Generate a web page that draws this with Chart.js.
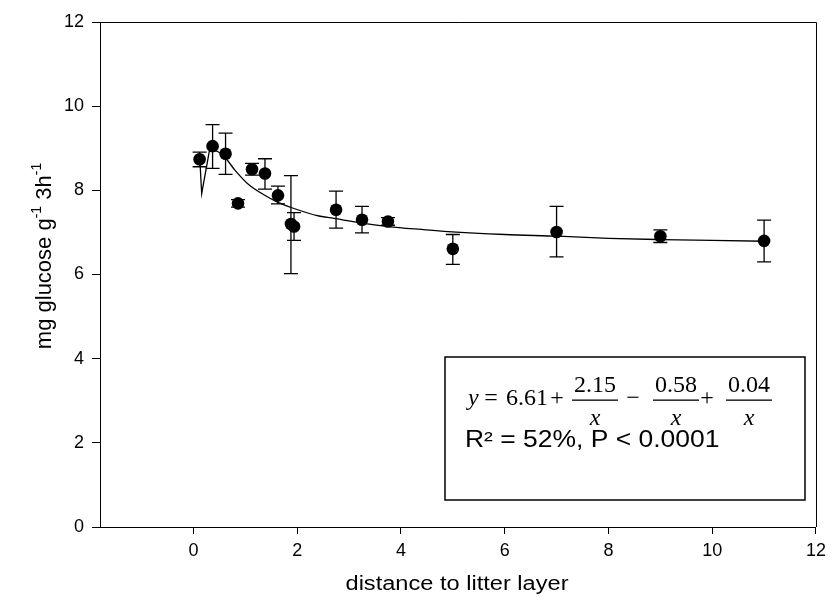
<!DOCTYPE html>
<html>
<head>
<meta charset="utf-8">
<script src="https://cdn.jsdelivr.net/npm/chart.js@4"></script>
<style>
  body { margin: 0; background: #fff; }
  #grafico { display: block; }
</style>
</head>
<body>
<canvas id="grafico" width="832" height="608"></canvas>
<script>
// medias por distancia (cm) e limites das barras de erro
const distancia = [0.12, 0.37, 0.62, 0.86, 1.13, 1.38, 1.63, 1.88, 1.94, 2.75, 3.25, 3.75, 5, 7, 9, 11]
const glucose = [8.74, 9.05, 8.87, 7.69, 8.50, 8.40, 7.88, 7.20, 7.14, 7.54, 7.30, 7.26, 6.61, 7.01, 6.91, 6.80]
const erroSup = [8.91, 9.56, 9.36, 7.78, 8.64, 8.75, 8.10, 8.35, 7.47, 7.98, 7.62, 7.35, 6.95, 7.62, 7.06, 7.29]
const erroInf = [8.56, 8.52, 8.38, 7.60, 8.36, 8.03, 7.68, 6.02, 6.81, 7.10, 6.99, 7.17, 6.24, 6.42, 6.76, 6.30]

// curva ajustada (trecho em V perto de zero + resto)
const curvaVX = [0.13, 0.16, 0.31]
const curvaVY = [8.60, 7.92, 8.95]
const curvaX = [0.31, 0.45, 0.63, 0.8, 1.07, 1.35, 1.62, 1.91, 2.42, 2.74, 3.25, 3.76, 4.4, 4.91, 6, 7.02, 8, 9.01, 10, 11.02]
const curvaY = [8.95, 8.93, 8.75, 8.48, 8.13, 7.90, 7.72, 7.58, 7.39, 7.33, 7.22, 7.14, 7.07, 7.02, 6.95, 6.91, 6.86, 6.83, 6.81, 6.79]

const ticksX = [0, 2, 4, 6, 8, 10, 12]
const ticksY = [0, 2, 4, 6, 8, 10, 12]

const tituloX = 'distance to litter layer'
const equacao = ['6.61', '2.15', '0.58', '0.04']
const textoR2 = 'R² = 52%, P < 0.0001'

const pontos = distancia.map((x, i) => ({ x: x, y: glucose[i] }))
const linhaV = curvaVX.map((x, i) => ({ x: x, y: curvaVY[i] }))
const linha = curvaX.map((x, i) => ({ x: x, y: curvaY[i] }))

const barrasErro = {
    id: 'barrasErro',
    beforeDatasetsDraw(chart) {
        const ctx = chart.ctx
        const sx = chart.scales.x
        const sy = chart.scales.y
        ctx.save()
        ctx.strokeStyle = '#000'
        ctx.lineWidth = 1.3
        distancia.forEach((d, i) => {
            const px = sx.getPixelForValue(d)
            const top = sy.getPixelForValue(erroSup[i])
            const bot = sy.getPixelForValue(erroInf[i])
            ctx.beginPath()
            ctx.moveTo(px, top)
            ctx.lineTo(px, bot)
            ctx.moveTo(px - 7, top)
            ctx.lineTo(px + 7, top)
            ctx.moveTo(px - 7, bot)
            ctx.lineTo(px + 7, bot)
            ctx.stroke()
        })
        ctx.restore()
    }
}

const serif = '24px "Liberation Serif"'
const serifIt = 'italic 24px "Liberation Serif"'

function fracao(ctx, num, cx) {
    ctx.font = serif
    ctx.textAlign = 'center'
    ctx.fillText(num, cx, 392)
    const w = ctx.measureText(num).width
    ctx.fillRect(cx - w / 2 - 2, 399.5, w + 4, 1.3)
    ctx.font = serifIt
    ctx.fillText('x', cx, 425)
}

function esticado(ctx, txt, x, y, esc) {
    ctx.save()
    ctx.translate(x, y)
    ctx.scale(esc, 1)
    ctx.fillText(txt, 0, 0)
    ctx.restore()
}

const textos = {
    id: 'textos',
    afterDraw(chart) {
        const ctx = chart.ctx
        const a = chart.chartArea
        ctx.save()
        ctx.fillStyle = '#000'
        ctx.strokeStyle = '#000'

        // moldura de cima e da direita
        ctx.lineWidth = 1
        ctx.beginPath()
        ctx.moveTo(a.left, a.top + 0.5)
        ctx.lineTo(a.right + 0.5, a.top + 0.5)
        ctx.lineTo(a.right + 0.5, a.bottom)
        ctx.stroke()

        // caixa da equacao
        ctx.lineWidth = 1.5
        ctx.strokeRect(445, 357, 360, 143)

        ctx.textBaseline = 'alphabetic'
        ctx.textAlign = 'left'
        ctx.font = serifIt
        ctx.fillText('y', 468, 405)
        ctx.font = serif
        ctx.textAlign = 'center'
        ctx.fillText('=', 491, 405)
        ctx.fillText(equacao[0], 527, 405)
        ctx.fillText('+', 557, 405)
        fracao(ctx, equacao[1], 595)
        ctx.font = serif
        ctx.fillText('\u2212', 633, 405)
        fracao(ctx, equacao[2], 676)
        ctx.font = serif
        ctx.fillText('+', 707, 405)
        fracao(ctx, equacao[3], 749)

        ctx.textAlign = 'left'
        ctx.font = '23px "Liberation Sans"'
        esticado(ctx, textoR2, 465, 447, 1.15)

        // titulo do eixo x
        ctx.textAlign = 'center'
        ctx.font = '20px "Liberation Sans"'
        esticado(ctx, tituloX, 457, 590, 1.18)

        // titulo do eixo y com expoentes
        const partes = [['mg glucose g', false], ['-1', true], [' 3h', false], ['-1', true]]
        let total = 0
        partes.forEach(p => {
            ctx.font = (p[1] ? 14 : 22) + 'px "Liberation Sans"'
            total += ctx.measureText(p[0]).width
        })
        ctx.translate(43, 256)
        ctx.rotate(-Math.PI / 2)
        ctx.textAlign = 'left'
        let pos = -total / 2
        partes.forEach(p => {
            ctx.font = (p[1] ? 14 : 22) + 'px "Liberation Sans"'
            ctx.fillText(p[0], pos, p[1] ? -2 : 8)
            pos += ctx.measureText(p[0]).width
        })
        ctx.restore()
    }
}

const grafico = new Chart(document.getElementById('grafico'), {
    type: 'scatter',
    data: {
        datasets: [{
            data: pontos,
            pointRadius: 6.3,
            pointBackgroundColor: '#000',
            pointBorderColor: '#000',
            pointBorderWidth: 0,
            showLine: false
        }, {
            data: linha,
            showLine: true,
            borderColor: '#000',
            borderWidth: 1.3,
            pointRadius: 0,
            cubicInterpolationMode: 'monotone'
        }, {
            data: linhaV,
            showLine: true,
            borderColor: '#000',
            borderWidth: 1.3,
            pointRadius: 0,
            tension: 0
        }]
    },
    options: {
        responsive: false,
        animation: false,
        layout: { padding: { top: 22, right: 12, left: 0, bottom: 0 } },
        plugins: { legend: { display: false }, tooltip: { enabled: false } },
        scales: {
            x: {
                type: 'linear',
                min: -1.8,
                max: 12,
                afterBuildTicks: s => { s.ticks = ticksX.map(v => ({ value: v })) },
                afterFit: s => { s.height = 81 },
                border: { color: '#000', width: 1 },
                grid: { drawOnChartArea: false, drawTicks: true, tickLength: 7, color: '#000' },
                ticks: { color: '#000', padding: 6, maxRotation: 0, font: { family: 'Liberation Sans', size: 18 } }
            },
            y: {
                min: 0,
                max: 12,
                afterBuildTicks: s => { s.ticks = ticksY.map(v => ({ value: v })) },
                afterFit: s => { s.width = 100 },
                border: { color: '#000', width: 1 },
                grid: { drawOnChartArea: false, drawTicks: true, tickLength: 8, color: '#000' },
                ticks: { color: '#000', padding: 8, font: { family: 'Liberation Sans', size: 18 } }
            }
        }
    },
    plugins: [barrasErro, textos]
})
</script>
</body>
</html>
